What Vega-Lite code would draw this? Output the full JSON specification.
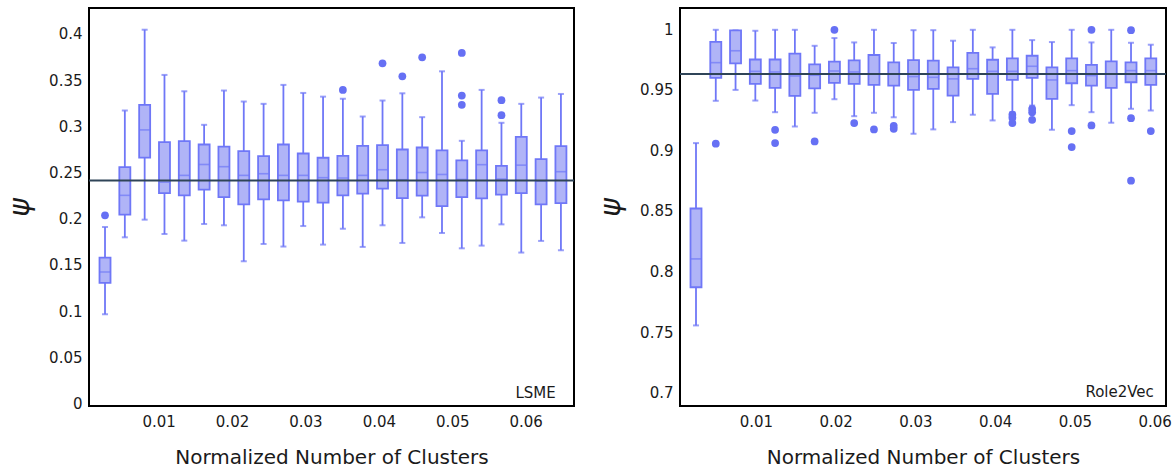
{
  "$schema": "https://vega.github.io/schema/vega-lite/v6.json",
  "background": "white",
  "padding": {"left": 5, "top": 7, "right": 5, "bottom": 5},
  "spacing": 20,
  "config": {
    "view": {"stroke": "black", "strokeWidth": 2},
    "axis": {
      "domain": false, "ticks": false, "grid": false,
      "labelFont": "DejaVu Sans", "labelFontSize": 15, "labelColor": "#1a1a1a",
      "titleFont": "DejaVu Sans", "titleFontWeight": "normal", "titleColor": "#1a1a1a"
    },
    "axisX": {"labelPadding": 8, "titleFontSize": 20, "titlePadding": 18},
    "axisY": {"labelPadding": 7, "titleFontSize": 28, "titleFontStyle": "italic", "titlePadding": 14}
  },
  "datasets": {
    "lsme_boxes": [
      {"x": 0.0027, "lo": 0.0966, "q1": 0.1305, "med": 0.1423, "q3": 0.1579, "hi": 0.191},
      {"x": 0.0054, "lo": 0.1798, "q1": 0.2043, "med": 0.2252, "q3": 0.2557, "hi": 0.317},
      {"x": 0.0081, "lo": 0.1989, "q1": 0.266, "med": 0.296, "q3": 0.323, "hi": 0.4044},
      {"x": 0.0108, "lo": 0.1834, "q1": 0.2277, "med": 0.2395, "q3": 0.2827, "hi": 0.3555},
      {"x": 0.0135, "lo": 0.1762, "q1": 0.2252, "med": 0.2468, "q3": 0.2838, "hi": 0.3378},
      {"x": 0.0162, "lo": 0.1942, "q1": 0.2313, "med": 0.2586, "q3": 0.2802, "hi": 0.3015},
      {"x": 0.0189, "lo": 0.1928, "q1": 0.2233, "med": 0.2562, "q3": 0.278, "hi": 0.3386},
      {"x": 0.0216, "lo": 0.1539, "q1": 0.2154, "med": 0.2468, "q3": 0.273, "hi": 0.3267},
      {"x": 0.0243, "lo": 0.1726, "q1": 0.2208, "med": 0.2486, "q3": 0.2676, "hi": 0.3242},
      {"x": 0.027, "lo": 0.1698, "q1": 0.2198, "med": 0.2468, "q3": 0.2802, "hi": 0.3447},
      {"x": 0.0297, "lo": 0.192, "q1": 0.2184, "med": 0.2468, "q3": 0.2705, "hi": 0.336},
      {"x": 0.0324, "lo": 0.1719, "q1": 0.2173, "med": 0.2443, "q3": 0.2659, "hi": 0.332},
      {"x": 0.0351, "lo": 0.1892, "q1": 0.2252, "med": 0.2439, "q3": 0.268, "hi": 0.3297},
      {"x": 0.0378, "lo": 0.1694, "q1": 0.227, "med": 0.2468, "q3": 0.2788, "hi": 0.3105},
      {"x": 0.0405, "lo": 0.1928, "q1": 0.2324, "med": 0.2529, "q3": 0.2795, "hi": 0.3278},
      {"x": 0.0432, "lo": 0.1737, "q1": 0.2223, "med": 0.2421, "q3": 0.2748, "hi": 0.3356},
      {"x": 0.0459, "lo": 0.2014, "q1": 0.2248, "med": 0.2499, "q3": 0.277, "hi": 0.3098},
      {"x": 0.0486, "lo": 0.1845, "q1": 0.2136, "med": 0.2478, "q3": 0.2738, "hi": 0.3594},
      {"x": 0.0513, "lo": 0.1679, "q1": 0.2233, "med": 0.2424, "q3": 0.263, "hi": 0.2842},
      {"x": 0.054, "lo": 0.1708, "q1": 0.2219, "med": 0.2584, "q3": 0.2738, "hi": 0.3393},
      {"x": 0.0567, "lo": 0.1938, "q1": 0.2259, "med": 0.2428, "q3": 0.2572, "hi": 0.3037},
      {"x": 0.0594, "lo": 0.1633, "q1": 0.2277, "med": 0.2579, "q3": 0.2885, "hi": 0.3242},
      {"x": 0.0621, "lo": 0.1759, "q1": 0.2154, "med": 0.2406, "q3": 0.2644, "hi": 0.331},
      {"x": 0.0648, "lo": 0.1658, "q1": 0.2168, "med": 0.2508, "q3": 0.2784, "hi": 0.3349}
    ],
    "lsme_outliers": [
      {"x": 0.0027, "y": 0.2036},
      {"x": 0.0351, "y": 0.3393},
      {"x": 0.0405, "y": 0.368},
      {"x": 0.0432, "y": 0.354},
      {"x": 0.0459, "y": 0.3745},
      {"x": 0.0513, "y": 0.3793},
      {"x": 0.0513, "y": 0.3332},
      {"x": 0.0513, "y": 0.3232},
      {"x": 0.0567, "y": 0.3281},
      {"x": 0.0567, "y": 0.312}
    ],
    "lsme_mean": [{"y": 0.2414}],
    "lsme_label": [{"x": 0.0641, "y": 0.0113, "name": "LSME"}],
    "role_boxes": [
      {"x": 0.00248, "lo": 0.7555, "q1": 0.787, "med": 0.8104, "q3": 0.852, "hi": 0.906},
      {"x": 0.00496, "lo": 0.9409, "q1": 0.9598, "med": 0.9724, "q3": 0.9896, "hi": 0.9995},
      {"x": 0.00744, "lo": 0.9499, "q1": 0.9718, "med": 0.9822, "q3": 0.999, "hi": 0.999},
      {"x": 0.00992, "lo": 0.9411, "q1": 0.9549, "med": 0.9652, "q3": 0.975, "hi": 0.9987},
      {"x": 0.0124, "lo": 0.9315, "q1": 0.9516, "med": 0.9647, "q3": 0.975, "hi": 0.9995},
      {"x": 0.01488, "lo": 0.9197, "q1": 0.945, "med": 0.9614, "q3": 0.9798, "hi": 0.9995},
      {"x": 0.01736, "lo": 0.931, "q1": 0.9512, "med": 0.962, "q3": 0.971, "hi": 0.9863},
      {"x": 0.01984, "lo": 0.9422, "q1": 0.9557, "med": 0.9655, "q3": 0.9732, "hi": 0.9927},
      {"x": 0.02232, "lo": 0.9282, "q1": 0.9549, "med": 0.9647, "q3": 0.9742, "hi": 0.9891},
      {"x": 0.0248, "lo": 0.931, "q1": 0.954, "med": 0.9631, "q3": 0.9787, "hi": 0.9995},
      {"x": 0.02728, "lo": 0.9273, "q1": 0.9535, "med": 0.9631, "q3": 0.9726, "hi": 0.9886},
      {"x": 0.02976, "lo": 0.9137, "q1": 0.95, "med": 0.9609, "q3": 0.9745, "hi": 0.9992},
      {"x": 0.03224, "lo": 0.9173, "q1": 0.9507, "med": 0.9603, "q3": 0.974, "hi": 0.9992},
      {"x": 0.03472, "lo": 0.9233, "q1": 0.9452, "med": 0.959, "q3": 0.9685, "hi": 0.9905},
      {"x": 0.0372, "lo": 0.9294, "q1": 0.959, "med": 0.9674, "q3": 0.9804, "hi": 0.9995},
      {"x": 0.03968, "lo": 0.9247, "q1": 0.9466, "med": 0.9652, "q3": 0.9748, "hi": 0.985},
      {"x": 0.04216, "lo": 0.9315, "q1": 0.9581, "med": 0.9652, "q3": 0.9759, "hi": 0.9995},
      {"x": 0.04464, "lo": 0.937, "q1": 0.9598, "med": 0.9694, "q3": 0.9781, "hi": 0.991},
      {"x": 0.04712, "lo": 0.917, "q1": 0.9425, "med": 0.9581, "q3": 0.9685, "hi": 0.9894},
      {"x": 0.0496, "lo": 0.9373, "q1": 0.9554, "med": 0.9658, "q3": 0.9759, "hi": 0.9995},
      {"x": 0.05208, "lo": 0.9315, "q1": 0.9535, "med": 0.9617, "q3": 0.9705, "hi": 0.9891},
      {"x": 0.05456, "lo": 0.9228, "q1": 0.9516, "med": 0.9631, "q3": 0.9735, "hi": 0.9995},
      {"x": 0.05704, "lo": 0.9343, "q1": 0.9562, "med": 0.9658, "q3": 0.9726, "hi": 0.9888},
      {"x": 0.05952, "lo": 0.9329, "q1": 0.954, "med": 0.9658, "q3": 0.9759, "hi": 0.9872}
    ],
    "role_outliers": [
      {"x": 0.00496, "y": 0.9055},
      {"x": 0.0124, "y": 0.917},
      {"x": 0.0124, "y": 0.906},
      {"x": 0.01736, "y": 0.9074},
      {"x": 0.01984, "y": 0.9995},
      {"x": 0.02232, "y": 0.9225},
      {"x": 0.0248, "y": 0.9173},
      {"x": 0.02728, "y": 0.9203},
      {"x": 0.02728, "y": 0.9178},
      {"x": 0.04216, "y": 0.9294},
      {"x": 0.04216, "y": 0.9269},
      {"x": 0.04216, "y": 0.9225},
      {"x": 0.04464, "y": 0.9343},
      {"x": 0.04464, "y": 0.9315},
      {"x": 0.04464, "y": 0.9252},
      {"x": 0.0496, "y": 0.9159},
      {"x": 0.0496, "y": 0.9027},
      {"x": 0.05208, "y": 0.9995},
      {"x": 0.05208, "y": 0.9206},
      {"x": 0.05704, "y": 0.9992},
      {"x": 0.05704, "y": 0.9266},
      {"x": 0.05704, "y": 0.875},
      {"x": 0.05952, "y": 0.9159}
    ],
    "role_mean": [{"y": 0.9631}],
    "role_label": [{"x": 0.0599, "y": 0.7002, "name": "Role2Vec"}]
  },
  "hconcat": [
    {
      "width": 485,
      "height": 398,
      "layer": [
        {
          "data": {"name": "lsme_boxes"},
          "mark": {"type": "rule", "color": "#6f77f7", "strokeWidth": 1.8},
          "encoding": {
            "x": {"field": "x", "type": "quantitative", "title": "Normalized Number of Clusters",
                  "scale": {"domain": [0.0012, 0.0659], "nice": false, "zero": false},
                  "axis": {"values": [0.01, 0.02, 0.03, 0.04, 0.05, 0.06], "format": "~g"}},
            "y": {"field": "lo", "type": "quantitative", "title": "ψ",
                  "scale": {"domain": [-0.0027, 0.4279], "nice": false, "zero": false},
                  "axis": {"values": [0, 0.05, 0.1, 0.15, 0.2, 0.25, 0.3, 0.35, 0.4], "format": "~g"}},
            "y2": {"field": "hi"}
          }
        },
        {
          "data": {"name": "lsme_boxes"},
          "mark": {"type": "tick", "orient": "horizontal", "color": "#6f77f7", "size": 6, "thickness": 2},
          "encoding": {"x": {"field": "x", "type": "quantitative"}, "y": {"field": "lo", "type": "quantitative"}}
        },
        {
          "data": {"name": "lsme_boxes"},
          "mark": {"type": "tick", "orient": "horizontal", "color": "#6f77f7", "size": 6, "thickness": 2},
          "encoding": {"x": {"field": "x", "type": "quantitative"}, "y": {"field": "hi", "type": "quantitative"}}
        },
        {
          "data": {"name": "lsme_boxes"},
          "mark": {"type": "bar", "width": 11, "fill": "#b0b4f7", "stroke": "#6f77f7", "strokeWidth": 1.8},
          "encoding": {"x": {"field": "x", "type": "quantitative"}, "y": {"field": "q1", "type": "quantitative"}, "y2": {"field": "q3"}}
        },
        {
          "data": {"name": "lsme_boxes"},
          "mark": {"type": "tick", "orient": "horizontal", "color": "#6f77f7", "size": 11, "thickness": 1.6},
          "encoding": {"x": {"field": "x", "type": "quantitative"}, "y": {"field": "med", "type": "quantitative"}}
        },
        {
          "data": {"name": "lsme_outliers"},
          "mark": {"type": "circle", "color": "#6670f4", "opacity": 1, "size": 60},
          "encoding": {"x": {"field": "x", "type": "quantitative"}, "y": {"field": "y", "type": "quantitative"}}
        },
        {
          "data": {"name": "lsme_mean"},
          "mark": {"type": "rule", "color": "#2f4458", "strokeWidth": 2},
          "encoding": {"y": {"field": "y", "type": "quantitative"}}
        },
        {
          "data": {"name": "lsme_label"},
          "mark": {"type": "text", "align": "right", "baseline": "middle", "font": "DejaVu Sans", "fontSize": 15, "color": "#1a1a1a"},
          "encoding": {"x": {"field": "x", "type": "quantitative"}, "y": {"field": "y", "type": "quantitative"}, "text": {"field": "name"}}
        }
      ]
    },
    {
      "width": 486,
      "height": 398,
      "layer": [
        {
          "data": {"name": "role_boxes"},
          "mark": {"type": "rule", "color": "#6f77f7", "strokeWidth": 1.8},
          "encoding": {
            "x": {"field": "x", "type": "quantitative", "title": "Normalized Number of Clusters",
                  "scale": {"domain": [0.0011, 0.0608], "nice": false, "zero": false},
                  "axis": {"values": [0.01, 0.02, 0.03, 0.04, 0.05, 0.06], "format": "~g"}},
            "y": {"field": "lo", "type": "quantitative", "title": "ψ",
                  "scale": {"domain": [0.689, 1.0175], "nice": false, "zero": false},
                  "axis": {"values": [0.7, 0.75, 0.8, 0.85, 0.9, 0.95, 1], "format": "~g"}},
            "y2": {"field": "hi"}
          }
        },
        {
          "data": {"name": "role_boxes"},
          "mark": {"type": "tick", "orient": "horizontal", "color": "#6f77f7", "size": 6, "thickness": 2},
          "encoding": {"x": {"field": "x", "type": "quantitative"}, "y": {"field": "lo", "type": "quantitative"}}
        },
        {
          "data": {"name": "role_boxes"},
          "mark": {"type": "tick", "orient": "horizontal", "color": "#6f77f7", "size": 6, "thickness": 2},
          "encoding": {"x": {"field": "x", "type": "quantitative"}, "y": {"field": "hi", "type": "quantitative"}}
        },
        {
          "data": {"name": "role_boxes"},
          "mark": {"type": "bar", "width": 11, "fill": "#b0b4f7", "stroke": "#6f77f7", "strokeWidth": 1.8},
          "encoding": {"x": {"field": "x", "type": "quantitative"}, "y": {"field": "q1", "type": "quantitative"}, "y2": {"field": "q3"}}
        },
        {
          "data": {"name": "role_boxes"},
          "mark": {"type": "tick", "orient": "horizontal", "color": "#6f77f7", "size": 11, "thickness": 1.6},
          "encoding": {"x": {"field": "x", "type": "quantitative"}, "y": {"field": "med", "type": "quantitative"}}
        },
        {
          "data": {"name": "role_outliers"},
          "mark": {"type": "circle", "color": "#6670f4", "opacity": 1, "size": 60},
          "encoding": {"x": {"field": "x", "type": "quantitative"}, "y": {"field": "y", "type": "quantitative"}}
        },
        {
          "data": {"name": "role_mean"},
          "mark": {"type": "rule", "color": "#2f4458", "strokeWidth": 2},
          "encoding": {"y": {"field": "y", "type": "quantitative"}}
        },
        {
          "data": {"name": "role_label"},
          "mark": {"type": "text", "align": "right", "baseline": "middle", "font": "DejaVu Sans", "fontSize": 15, "color": "#1a1a1a"},
          "encoding": {"x": {"field": "x", "type": "quantitative"}, "y": {"field": "y", "type": "quantitative"}, "text": {"field": "name"}}
        }
      ]
    }
  ]
}
